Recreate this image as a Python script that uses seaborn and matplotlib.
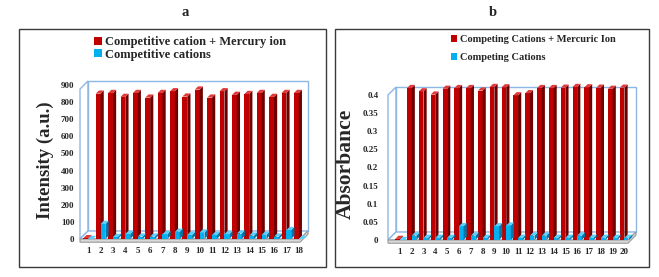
import matplotlib
matplotlib.use("Agg")
import matplotlib.pyplot as plt
from matplotlib.patches import Polygon, Rectangle, Patch
import seaborn as sns
import pandas as pd
import numpy as np

# ---------------- data ----------------
a_categories = [str(i) for i in range(1, 19)]
a_mercury = [5, 849, 853, 830, 853, 826, 853, 863, 832, 873, 826, 863, 842, 847, 853, 830, 853, 853]
a_cations = [0, 88, 12, 29, 14, 14, 28, 42, 24, 38, 24, 28, 32, 20, 24, 14, 52, 0]
a_yticks = [0, 100, 200, 300, 400, 500, 600, 700, 800, 900]

b_categories = [str(i) for i in range(1, 21)]
b_mercury = [0.003, 0.419, 0.410, 0.401, 0.417, 0.419, 0.419, 0.412, 0.422, 0.421,
             0.399, 0.405, 0.419, 0.419, 0.420, 0.422, 0.421, 0.420, 0.417, 0.420]
b_cations = [0.0, 0.012, 0.006, 0.006, 0.006, 0.038, 0.012, 0.006, 0.038, 0.040,
             0.006, 0.012, 0.012, 0.006, 0.006, 0.012, 0.006, 0.006, 0.006, 0.006]
b_yticks = [0, 0.05, 0.1, 0.15, 0.2, 0.25, 0.3, 0.35, 0.4]
b_yticklabels = ["0", "0.05", "0.1", "0.15", "0.2", "0.25", "0.3", "0.35", "0.4"]

a_series = ["Competitive cation + Mercury ion", "Competitive cations"]
b_series = ["Competing Cations + Mercuric Ion", "Competing Cations"]

RED, RED_SIDE, RED_TOP = "#C00000", "#6E0000", "#E23A3A"
BLUE, BLUE_SIDE, BLUE_TOP = "#00B0F0", "#0077A8", "#55D0FF"
WALL = "#8DB8E6"
FLOOR = "#9A9A9A"

sns.set_theme(style="white")
plt.rcParams["font.family"] = ["Liberation Serif", "DejaVu Serif"]
plt.rcParams["font.weight"] = "bold"

W, H = 659, 277
fig = plt.figure(figsize=(W / 100, H / 100), dpi=100)


def fx(px):
    return px / W


def fy(py):
    return 1 - py / H


# outer panel boxes
for (l, r) in [(19, 326), (335, 649)]:
    fig.add_artist(Rectangle((fx(l), fy(267)), fx(r) - fx(l), fy(29) - fy(267),
                             transform=fig.transFigure, fill=False,
                             edgecolor="#3a3a3a", lw=1.0))

fig.text(fx(185), fy(13), "a", ha="center", va="center", fontsize=10.5, fontweight="bold")
fig.text(fx(493), fy(13), "b", ha="center", va="center", fontsize=10.5, fontweight="bold")


def make_panel(rect_px, cats, s1, s2, names, xlim, ylim, yticks, yticklabels,
               ylabel, ylabel_size, labelpad, tickpad, wall_px=8, bar_px=3.2):
    l, r, top, bot = rect_px
    ax = fig.add_axes([fx(l), fy(bot), fx(r) - fx(l), fy(top) - fy(bot)])
    df = pd.DataFrame({
        "cat": cats * 2,
        "val": list(s1) + list(s2),
        "series": [names[0]] * len(cats) + [names[1]] * len(cats),
    })
    sns.barplot(data=df, x="cat", y="val", hue="series", hue_order=names,
                palette=[RED, BLUE], width=0.78, ax=ax, legend=False,
                saturation=1, edgecolor="none", linewidth=0)
    ax.set_xlim(*xlim)
    ax.set_ylim(*ylim)
    ppx = (r - l) / (xlim[1] - xlim[0])
    ppy = (bot - top) / (ylim[1] - ylim[0])
    wdx, wdy = wall_px / ppx, wall_px / ppy
    bdx, bdy = bar_px / ppx, bar_px / ppy

    x0, x1 = xlim
    y0, y1 = ylim
    kw = dict(transform=ax.transData, clip_on=False, zorder=0.5)
    ax.add_patch(Polygon([(x0 + wdx, wdy), (x1 + wdx, wdy), (x1 + wdx, y1), (x0 + wdx, y1)],
                         closed=True, fill=False, edgecolor=WALL, lw=1.0, **kw))
    ax.add_patch(Polygon([(x0, 0), (x0 + wdx, wdy), (x0 + wdx, y1), (x0, y1 - wdy)],
                         closed=True, fill=False, edgecolor=WALL, lw=1.0, **kw))
    ax.add_patch(Polygon([(x0, 0), (x1, 0), (x1 + wdx, wdy), (x0 + wdx, wdy)],
                         closed=True, facecolor="white", edgecolor=WALL, lw=1.0, **kw))
    ax.add_patch(Polygon([(x0, 0), (x1, 0), (x1 + wdx, wdy), (x1 + wdx, wdy * 0.6),
                          (x1, -wdy * 0.4), (x0, -wdy * 0.4)],
                         closed=True, facecolor="#d9d9d9", edgecolor=FLOOR, lw=0.8, **kw))

    # pseudo 3-D faces derived from the drawn bars
    z = 2
    for p in list(ax.containers[0]) + list(ax.containers[1]):
        bx, by = p.get_x(), p.get_y()
        bw, bh = p.get_width(), p.get_height()
        fc = p.get_facecolor()
        is_red = fc[0] > 0.5
        side = RED_SIDE if is_red else BLUE_SIDE
        topc = RED_TOP if is_red else BLUE_TOP
        z += 0.01
        p.set_zorder(z)
        ax.add_patch(Polygon([(bx + bw, by), (bx + bw + bdx, by + bdy),
                              (bx + bw + bdx, by + bh + bdy), (bx + bw, by + bh)],
                             closed=True, facecolor=side, edgecolor="none", zorder=z,
                             clip_on=False))
        ax.add_patch(Polygon([(bx, by + bh), (bx + bdx, by + bh + bdy),
                              (bx + bw + bdx, by + bh + bdy), (bx + bw, by + bh)],
                             closed=True, facecolor=topc, edgecolor="none", zorder=z,
                             clip_on=False))

    for s in ax.spines.values():
        s.set_visible(False)
    ax.set_facecolor("none")
    ax.set_yticks(yticks)
    ax.set_yticklabels(yticklabels)
    ax.tick_params(axis="both", length=0, labelsize=6.5)
    ax.tick_params(axis="y", pad=tickpad)
    ax.tick_params(axis="x", pad=6)
    for t in ax.get_xticklabels() + ax.get_yticklabels():
        t.set_fontweight("bold")
    ax.set_xlabel("")
    ax.set_ylabel(ylabel, fontsize=ylabel_size, fontweight="bold", labelpad=labelpad)
    ax.grid(False)
    return ax


ax_a = make_panel((80, 300, 81, 239), a_categories, a_mercury, a_cations, a_series,
                  (-0.66, 17.1), (0, 923), a_yticks, [str(v) for v in a_yticks],
                  "Intensity (a.u.)", 13.5, 5, 4)
ax_b = make_panel((388, 628, 87, 240), b_categories, b_mercury, b_cations, b_series,
                  (-1.0, 19.3), (0, 0.422), b_yticks, b_yticklabels,
                  "Absorbance", 15.5, 5, 7)

# legends
ha = [Patch(facecolor=RED, edgecolor="none"), Patch(facecolor=BLUE, edgecolor="none")]
fig.legend(ha, a_series, loc="upper left", bbox_to_anchor=(fx(94), fy(36)),
           frameon=False, handlelength=0.6, handleheight=0.6,
           handletextpad=0.3, labelspacing=0.05, borderpad=0, borderaxespad=0,
           prop={"weight": "bold", "size": 9})
fig.legend(ha, b_series, loc="upper left", bbox_to_anchor=(fx(451), fy(35)),
           frameon=False, handlelength=0.6, handleheight=0.6,
           handletextpad=0.3, labelspacing=0.9, borderpad=0, borderaxespad=0,
           prop={"weight": "bold", "size": 7.5})

fig.savefig("out.png", dpi=100)
